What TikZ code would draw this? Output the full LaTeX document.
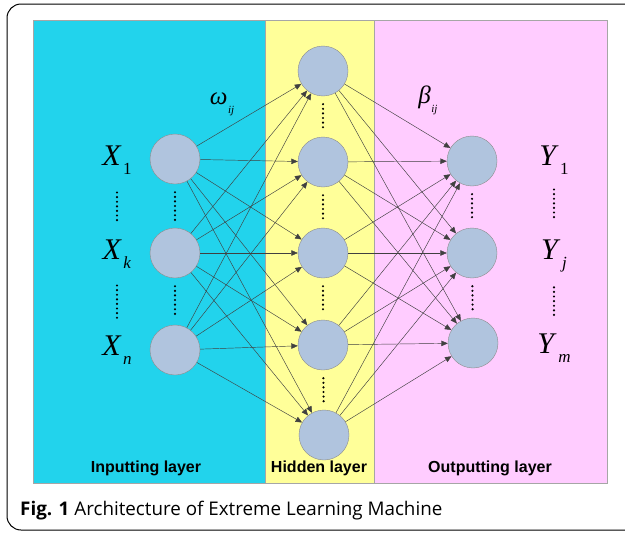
\documentclass[tikz,border=0pt]{standalone}
\usepackage{fontspec}
\setmainfont{Liberation Serif}
\newfontfamily\capfont{Open Sans}
\newfontfamily\layerfont{Liberation Sans}
\usetikzlibrary{arrows.meta}

\definecolor{inputcyan}{HTML}{22D3EC}
\definecolor{hiddenyellow}{HTML}{FFFF99}
\definecolor{outputpink}{HTML}{FFCCFF}
\definecolor{neuronfill}{HTML}{B0C4DE}

\newcommand{\unitlbl}[2]{\textit{#1}\kern1.5pt\raisebox{-0.3em}{\fontsize{17}{17}\selectfont #2}}
\newcommand{\weightlbl}[2]{\textit{#1}\kern0.5pt\raisebox{-0.35em}{\fontsize{11}{11}\selectfont\textit{#2}}}

\begin{document}
\begin{tikzpicture}[x=1pt,y=-1pt,
    neuron/.style={circle,draw=black!45,fill=neuronfill,minimum size=50pt,inner sep=0pt},
    link/.style={-{Triangle[length=6.5pt,width=5.5pt]},draw=black!75,line width=0.45pt},
    dots/.style={line width=2.4pt,line cap=round,dash pattern=on 0pt off 4.6pt,shorten <=8pt,shorten >=8pt},
    layer/.style={font=\layerfont\bfseries\fontsize{16}{16}\selectfont,anchor=base},
    unit/.style={font=\fontsize{30}{30}\selectfont,inner sep=0pt}]
    \useasboundingbox (0,0) rectangle (625,533);
    \clip (0,0) rectangle (625,533);

    % Frame
    \draw[line width=1pt,rounded corners=14pt] (7,4) rectangle (650,530);

    % Layers
    \filldraw[fill=inputcyan,draw=black!35] (33,20) rectangle (265,483);
    \filldraw[fill=hiddenyellow,draw=black!35] (265,20) rectangle (374,483);
    \filldraw[fill=outputpink,draw=black!35] (374,20) rectangle (607,483);

    % Input neurons
    \node[neuron] (in1) at (175,159) {};
    \node[neuron] (ink) at (175,253) {};
    \node[neuron] (inn) at (175,350) {};

    % Hidden neurons
    \node[neuron] (h1) at (323,71) {};
    \node[neuron] (h2) at (323,162) {};
    \node[neuron] (h3) at (323,253) {};
    \node[neuron] (h4) at (323,345) {};
    \node[neuron] (h5) at (324,435) {};

    % Output neurons
    \node[neuron] (o1) at (472,161) {};
    \node[neuron] (oj) at (472,253) {};
    \node[neuron] (om) at (473,343) {};

    % Connections
    \foreach \a in {in1,ink,inn}
        \foreach \b in {h1,h2,h3,h4,h5}
            \draw[link] (\a) -- (\b);
    \foreach \a in {h1,h2,h3,h4,h5}
        \foreach \b in {o1,oj,om}
            \draw[link] (\a) -- (\b);

    % Dots between neurons
    \draw[dots] (in1) -- (ink);
    \draw[dots] (ink) -- (inn);
    \draw[dots] (h1) -- (h2);
    \draw[dots] (h2) -- (h3);
    \draw[dots] (h3) -- (h4);
    \draw[dots] (h4) -- (h5);
    \draw[dots] (o1) -- (oj);
    \draw[dots] (oj) -- (om);

    % Input and output labels
    \node[unit] (x1) at (117,160) {\unitlbl{X}{1}};
    \node[unit] (xk) at (117,254) {\unitlbl{X}{\textit{k}}};
    \node[unit] (xn) at (117,350) {\unitlbl{X}{\textit{n}}};
    \node[unit] (y1) at (554,160) {\unitlbl{Y}{1}};
    \node[unit] (yj) at (554,256) {\unitlbl{Y}{\textit{j}}};
    \node[unit] (ym) at (554,348) {\unitlbl{Y}{\textit{m}}};
    \draw[dots,shorten <=18pt,shorten >=17pt] (x1) -- (xk);
    \draw[dots,shorten <=17pt,shorten >=17pt] (xk) -- (xn);
    \draw[dots,shorten <=15pt,shorten >=19pt] (y1) -- (yj);
    \draw[dots,shorten <=15pt,shorten >=17pt] (yj) -- (ym);

    % Weights
    \node[font=\fontsize{25}{25}\selectfont] (omega) at (222,104) {\weightlbl{ω}{ij}};
    \node[font=\fontsize{25}{25}\selectfont] (beta) at (428,100) {\weightlbl{β}{ij}};

    % Layer names
    \node[layer] (inlbl) at (146,472) {Inputting layer};
    \node[layer] (hidlbl) at (319,472) {Hidden layer};
    \node[layer] (outlbl) at (490,472) {Outputting layer};

    % Caption
    \node[anchor=base west,inner sep=0pt,font=\capfont\fontsize{18.8}{18.8}\selectfont] (caption) at (20,515)
        {\textbf{Fig. 1} Architecture of Extreme Learning Machine};
\end{tikzpicture}
\end{document}
